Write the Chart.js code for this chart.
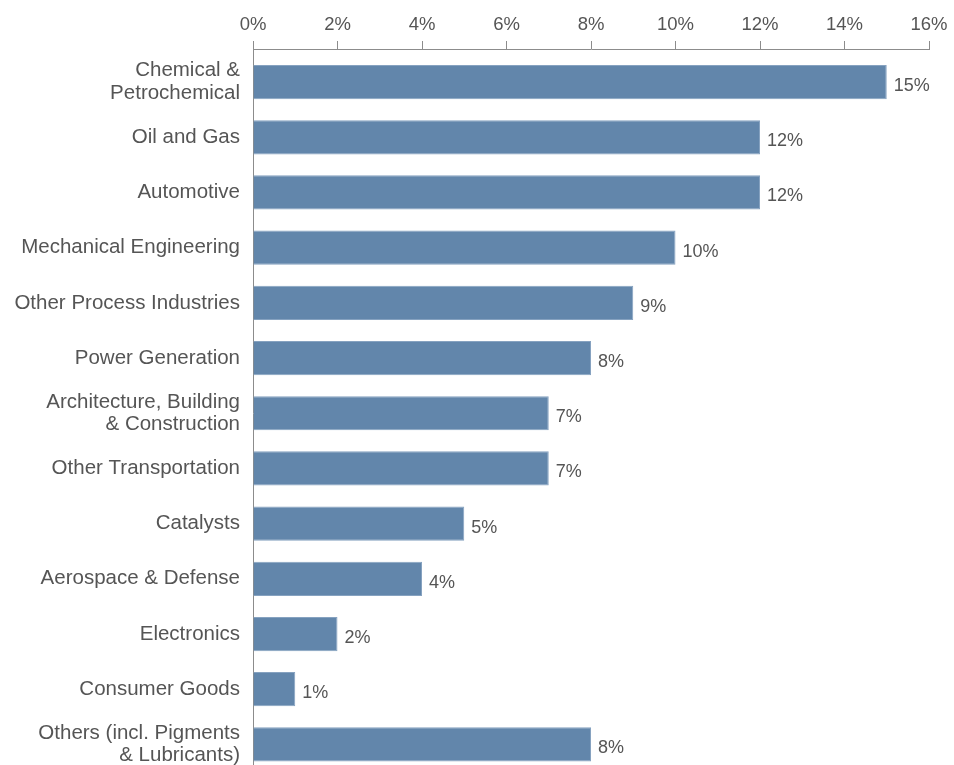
<!DOCTYPE html>
<html>
<head>
<meta charset="utf-8">
<script src="https://cdn.jsdelivr.net/npm/chart.js@4.4.1/dist/chart.umd.min.js"></script>
<style>
  html, body { margin: 0; padding: 0; background: #fff; overflow: hidden; }
  #wrap { width: 954px; height: 772px; position: relative; }
</style>
</head>
<body>
<div id="wrap"><canvas id="chart"></canvas></div>
<script>
// market share by end-use industry, in percent
const categories = [
  ['Chemical &', 'Petrochemical'],
  'Oil and Gas',
  'Automotive',
  'Mechanical Engineering',
  'Other Process Industries',
  'Power Generation',
  ['Architecture, Building', '& Construction'],
  'Other Transportation',
  'Catalysts',
  'Aerospace & Defense',
  'Electronics',
  'Consumer Goods',
  ['Others (incl. Pigments', '& Lubricants)']
];
const shares = [15, 12, 12, 10, 9, 8, 7, 7, 5, 4, 2, 1, 8];
const axisMin = 0;
const axisMax = 16;
const axisStep = 2;

const textColor = '#555555';
const lineColor = '#8c8c8c';
const fontFamily = '"Liberation Sans", Arial, sans-serif';

// writes "n%" to the right of each bar
const valueLabels = {
  id: 'valueLabels',
  afterDatasetsDraw(chart) {
    const ctx = chart.ctx;
    const meta = chart.getDatasetMeta(0);
    ctx.save();
    ctx.font = '18px ' + fontFamily;
    ctx.fillStyle = textColor;
    ctx.textAlign = 'left';
    ctx.textBaseline = 'middle';
    meta.data.forEach((bar, i) => {
      ctx.fillText(shares[i] + '%', bar.x + 7, bar.y + 4);
    });
    ctx.restore();
  }
};

new Chart(document.getElementById('chart'), {
  type: 'bar',
  data: {
    labels: categories,
    datasets: [{
      data: shares,
      backgroundColor: '#6286ab',
      borderColor: '#86a2c0',
      borderWidth: 1,
      categoryPercentage: 0.62,
      barPercentage: 1
    }]
  },
  options: {
    indexAxis: 'y',
    responsive: true,
    maintainAspectRatio: false,
    animation: false,
    layout: { padding: { top: 0, right: 25, left: 0, bottom: 0 } },
    plugins: {
      legend: { display: false },
      tooltip: { enabled: false }
    },
    scales: {
      x: {
        position: 'top',
        weight: 1,
        min: axisMin,
        max: axisMax,
        ticks: {
          stepSize: axisStep,
          padding: 5,
          color: textColor,
          font: { family: fontFamily, size: 18.5 },
          callback: v => v + '%'
        },
        grid: { drawOnChartArea: false, tickLength: 8, color: lineColor },
        border: { color: lineColor, width: 1 },
        afterFit: s => {
          s.height = 49;
          s.paddingLeft = 0;
          s.paddingRight = 0;
        }
      },
      // thin spacer between the axis line and the first bar
      xGap: {
        type: 'linear',
        position: 'top',
        weight: 0,
        min: axisMin,
        max: axisMax,
        ticks: { display: false, stepSize: axisStep },
        grid: {
          drawOnChartArea: false,
          tickLength: 6,
          color: c => (c.tick && c.tick.value === 0 ? lineColor : 'rgba(0,0,0,0)')
        },
        border: { display: false },
        afterFit: s => {
          s.height = 5.5;
          s.paddingLeft = 0;
          s.paddingRight = 0;
        }
      },
      y: {
        ticks: {
          padding: 13,
          color: textColor,
          font: { family: fontFamily, size: 20.5, lineHeight: 1.1 }
        },
        grid: { display: false, drawTicks: false },
        border: { color: lineColor, width: 1 },
        afterFit: s => {
          s.width = 253;
          s.paddingTop = 0;
          s.paddingBottom = 0;
        }
      }
    }
  },
  plugins: [valueLabels]
});
</script>
</body>
</html>
